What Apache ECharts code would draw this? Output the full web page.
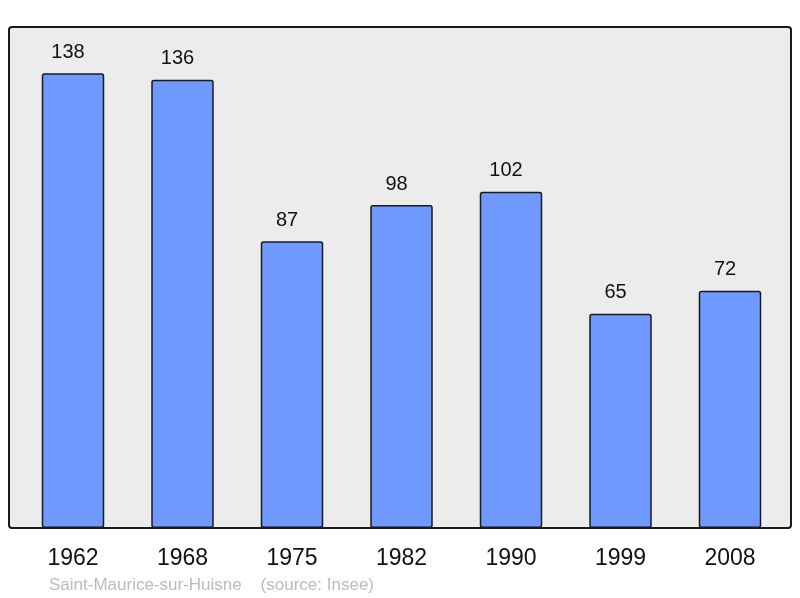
<!DOCTYPE html>
<html>
<head>
<meta charset="utf-8">
<script src="https://cdn.jsdelivr.net/npm/echarts@6/dist/echarts.min.js"></script>
<style>html,body{margin:0;padding:0;background:#fff;}#c{width:800px;height:598px;}</style>
</head>
<body>
<div id="c"></div>
<script>
const categories = ['1962', '1968', '1975', '1982', '1990', '1999', '2008'];
const population = [138, 136, 87, 98, 102, 65, 72];
const footerText = 'Saint-Maurice-sur-Huisne    (source: Insee)';

const chart = echarts.init(document.getElementById('c'), null, {renderer: 'canvas'});
chart.setOption({
  animation: false,
  backgroundColor: '#ffffff',
  graphic: [
    {type: 'rect', z: 0, silent: true,
     shape: {x: 9, y: 27, width: 782, height: 501, r: 3},
     style: {fill: '#ececec', stroke: '#1a1a1a', lineWidth: 2}},
    {type: 'text', z: 5, left: 49, top: 577,
     style: {text: footerText, fill: '#bbbbbb', font: '17px "Liberation Sans", Arial, sans-serif'}}
  ],
  grid: {left: 18.25, right: 15.25, top: 27, bottom: 70, containLabel: false},
  xAxis: {
    type: 'category', data: categories,
    axisLine: {show: false}, axisTick: {show: false},
    axisLabel: {color: '#111', fontSize: 23, fontFamily: '"Liberation Sans", Arial, sans-serif', margin: 19}
  },
  yAxis: {
    type: 'value', min: 0, max: 152,
    show: false, splitLine: {show: false}
  },
  series: [{
    type: 'bar', data: population, barWidth: 62.5, z: 2,
    itemStyle: {color: '#7099ff', borderColor: '#1a1a1a', borderWidth: 1.5, borderRadius: 2},
    label: {show: true, position: 'top', distance: 11, offset: [-5, 0], color: '#111', fontSize: 20,
            fontFamily: '"Liberation Sans", Arial, sans-serif'}
  }]
});
</script>
</body>
</html>
